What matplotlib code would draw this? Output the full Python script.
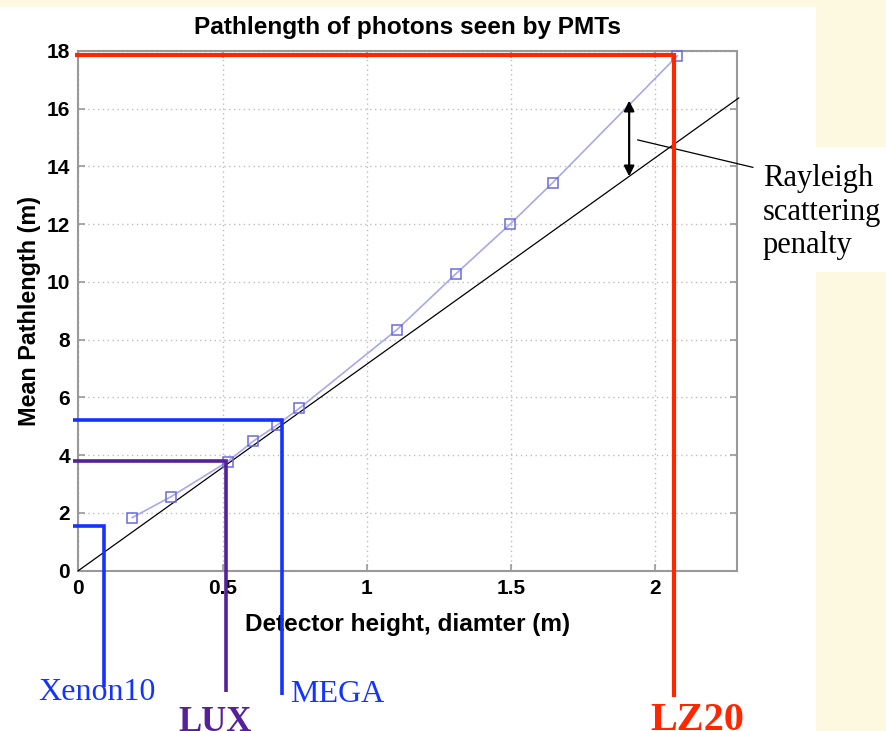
import matplotlib
matplotlib.use("Agg")
import matplotlib.pyplot as plt
from matplotlib.patches import Rectangle
import numpy as np

# Simulated mean photon pathlength vs detector size
size_m = [0.187, 0.321, 0.518, 0.607, 0.690, 0.766, 1.104, 1.309, 1.498, 1.645, 2.077]
pathlength_m = [1.84, 2.56, 3.78, 4.49, 5.05, 5.62, 8.34, 10.28, 12.01, 13.44, 17.83]

# Straight-line (no scattering) reference: pathlength = slope * size
ref_slope = 7.15
ref_x = [0.0, 2.29]

# Detectors marked on the curve
det_names = ["Xenon10", "LUX", "MEGA", "LZ20"]
det_size = [0.09, 0.511, 0.705, 2.065]
det_path = [1.55, 3.80, 5.22, 17.86]
det_colors = ["#1433ff", "#55209a", "#1433ff", "#ff2600"]
det_bottom = [-4.02, -4.21, -4.30, -4.39]
det_bold = [False, True, False, True]
det_fontsize = [23, 25, 23, 29]
det_text_dx = [-0.229, -0.165, 0.029, -0.083]
det_text_y = [-4.48, -5.55, -4.54, -5.52]

xticks = [0, 0.5, 1, 1.5, 2]
xtick_labels = ["0", "0.5", "1", "1.5", "2"]
yticks = list(range(0, 19, 2))

cream = "#fdf8e0"
fig = plt.figure(figsize=(8.86, 7.31), dpi=100, facecolor=cream)
W, H = 886, 731
# white slide panels behind the plot
fig.patches.append(Rectangle((0, 0), 816 / W, (H - 7) / H, transform=fig.transFigure,
                             facecolor="white", edgecolor="none", zorder=-5))
fig.patches.append(Rectangle((816 / W, (H - 272) / H), 70 / W, 125 / H, transform=fig.transFigure,
                             facecolor="white", edgecolor="none", zorder=-5))

ax = fig.add_axes([78.3 / W, (H - 570.7) / H, (737.3 - 78.3) / W, (570.7 - 51) / H])
ax.set_facecolor("white")
ax.set_xlim(0, 2.285)
ax.set_ylim(0, 18)

sans = ["Liberation Sans", "DejaVu Sans"]
serif = ["Liberation Serif", "DejaVu Serif"]

ax.set_xticks(xticks)
ax.set_xticklabels(xtick_labels)
ax.set_yticks(yticks)
ax.tick_params(direction="in", top=True, right=True, length=5, width=1.2, color="#999999",
               labelsize=15, pad=6)
for lab in ax.get_xticklabels() + ax.get_yticklabels():
    lab.set_fontfamily(sans)
    lab.set_fontweight("bold")
for sp in ax.spines.values():
    sp.set_color("#999999")
    sp.set_linewidth(1.5)
ax.grid(True, linestyle=(0, (1, 2.5)), color="#bdbdbd", linewidth=1.0)
ax.set_axisbelow(True)

ax.set_title("Pathlength of photons seen by PMTs", fontsize=17.6, fontweight="bold",
             family=sans, pad=12)
ax.set_xlabel("Detector height, diamter (m)", fontsize=17.6, fontweight="bold", family=sans,
              labelpad=11)
ax.set_ylabel("Mean Pathlength (m)", fontsize=16.8, fontweight="bold", family=sans, labelpad=4)

# reference line and simulated curve
ax.plot(ref_x, [ref_slope * v for v in ref_x], color="black", linewidth=0.9, zorder=3,
        clip_on=False)
ax.plot(size_m, pathlength_m, color="#a8a8ec", linewidth=1.2, zorder=4)
ax.plot(size_m, pathlength_m, linestyle="none", marker="s", markersize=6.5,
        markerfacecolor="none", markeredgecolor="#6a6ae0", markeredgewidth=1.1, zorder=5,
        clip_on=False)

# scattering penalty arrow
arrow_x = 1.91
curve_at = float(np.interp(arrow_x, size_m, pathlength_m))
ax.annotate("", xy=(arrow_x, curve_at + 0.15), xytext=(arrow_x, ref_slope * arrow_x),
            arrowprops=dict(arrowstyle="<|-|>", color="black", lw=1.6,
                            mutation_scale=15, shrinkA=0, shrinkB=0), zorder=6)
ax.plot([1.94, 2.339], [14.92, 13.97], color="black", linewidth=0.9, clip_on=False, zorder=6)
ax.text(2.374, 12.42, "Rayleigh\nscattering\npenalty", fontsize=22, family=serif,
        va="center", ha="left", linespacing=1.22, clip_on=False, zorder=6)

# detector markers: horizontal to the y-axis, vertical down to the label
for name, xs, yp, col, yb, bold, fs, dx, ty in zip(det_names, det_size, det_path, det_colors,
                                                    det_bottom, det_bold, det_fontsize,
                                                    det_text_dx, det_text_y):
    lw = 3.0 if name == "LZ20" else 2.6
    x0 = -0.011 if name == "LZ20" else -0.019
    ax.plot([x0, xs, xs], [yp, yp, yb], color=col, linewidth=lw, clip_on=False, zorder=7,
            solid_joinstyle="miter", solid_capstyle="butt")
    ax.text(xs + dx, ty, name, color=col, fontsize=fs, family=serif,
            fontweight="bold" if bold else "normal", va="baseline", ha="left",
            clip_on=False, zorder=8)

fig.savefig("out.png", dpi=100, facecolor=fig.get_facecolor())
